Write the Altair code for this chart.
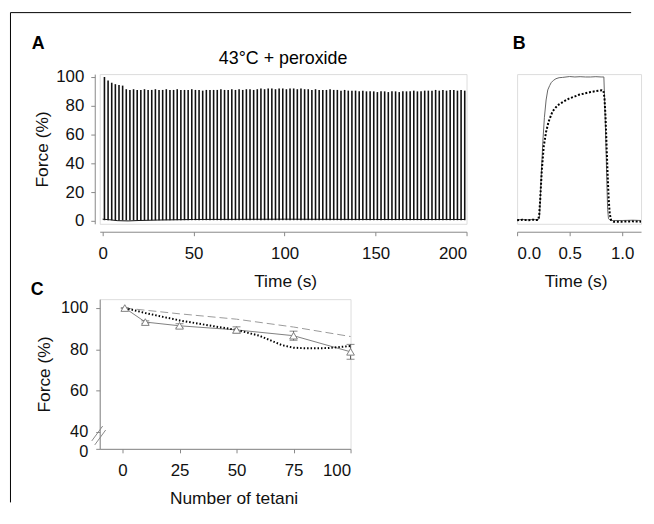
import altair as alt
import pandas as pd

# ---------------- Panel A: 100 tetani, 43°C + peroxide ----------------
a_time = list(range(1, 200, 2))  # one tetanus every 2 s
a_peak = [100, 97.5, 96, 95, 94.5, 94, 91.5, 91, 91.5, 91,
          91, 91.5, 91, 91, 91.5, 91, 91, 91.5, 91, 91,
          91.5, 91, 91, 91, 91.5, 91, 91, 90.5, 91, 91,
          91, 91, 91.5, 91, 91, 91.5, 91, 91.5, 91, 91.5,
          91.5, 91, 91.5, 92, 91.5, 92, 92, 91.5, 92, 92,
          91.5, 92, 92, 91.5, 92, 91.5, 91.5, 91, 91.5, 91,
          91, 91, 91.5, 91, 91, 90.5, 91, 90.5, 90.5, 90.5,
          90, 90.5, 90, 90, 90, 89.5, 90, 90, 89.5, 90,
          90, 89.5, 90, 90, 90, 90.5, 90, 90, 90.5, 90.5,
          90.5, 91, 90.5, 91, 90.5, 91, 91, 90.5, 91, 90.5]
a_base_t = [0, 4, 8, 14, 20, 30, 50, 100, 150, 199]
a_base_f = [1.2, 0.8, 0.2, 0, 0.3, 0.6, 1, 1.2, 1, 1]

# ---------------- Panel B: first (solid) and last (dotted) tetanus ----------------
b_t1 = [0, 0.05, 0.1, 0.15, 0.2, 0.213, 0.229, 0.245, 0.26, 0.276, 0.292, 0.31, 0.324,
        0.345, 0.37, 0.4, 0.434, 0.5, 0.55, 0.6, 0.65, 0.7, 0.75, 0.8, 0.826, 0.835,
        0.845, 0.855, 0.862, 0.87, 0.89, 0.92, 1.0, 1.1, 1.18]
b_f1 = [0.8, 1, 0.8, 1, 0.8, 2, 30, 55, 72, 84, 91, 94, 96,
        97.6, 98.8, 99.5, 99.7, 100.3, 100, 100.2, 100, 100, 100.2, 100, 100, 80,
        55, 25, 8, 1.5, 0.3, 0.3, 0.3, 0.5, 0.3]
b_t2 = [0, 0.05, 0.1, 0.15, 0.2, 0.21, 0.22, 0.235, 0.254, 0.276, 0.3, 0.337, 0.37,
        0.4, 0.45, 0.494, 0.55, 0.588, 0.65, 0.698, 0.75, 0.808, 0.822, 0.832, 0.842,
        0.852, 0.862, 0.872, 0.882, 0.895, 0.92, 1.0, 1.1, 1.18]
b_f2 = [0.5, 0.8, 0.5, 0.8, 0.6, 4, 15, 35, 52, 62, 69, 76, 79,
        81, 83.2, 85, 86.5, 87.6, 88.7, 89.5, 90.2, 90.8, 90.5, 85, 72,
        52, 32, 15, 5, 0.5, -0.5, -0.5, -0.3, -0.5]

# ---------------- Panel C: force vs number of tetani ----------------
c_n = [1, 10, 25, 50, 75, 100]
c_mean = [100, 93.2, 91.4, 89.4, 86.6, 78.8]
c_err = [0, 0.6, 1, 1.5, 2.2, 3.6]
c_dot_n = [1, 10, 25, 40, 50, 60, 65, 70, 75, 80, 90, 100]
c_dot_f = [100, 97.6, 94, 91.2, 89.4, 86.6, 84.3, 82, 80.8, 80.5, 80.6, 81.6]
c_dash_n = [1, 25, 50, 75, 100]
c_dash_f = [100, 97.2, 94.6, 90.8, 86.2]
c_yticks = [31.8, 40, 60, 80, 100]

FONT = "Liberation Sans"
AX = "#888888"
LINEGREY = "#808080"
one = pd.DataFrame({"k": [0]})

def axis_common(**kw):
    base = dict(grid=False, domainColor=AX, tickColor=AX, tickSize=4,
                labelFont=FONT, labelFontSize=17, labelColor="#111", labelOverlap=False,
                titleFont=FONT, titleFontSize=17.5, titleFontWeight="normal",
                titleColor="#111")
    base.update(kw)
    return alt.Axis(**base)

def label(txt, x, y, size=18, bold=True):
    return alt.Chart(one).mark_text(
        text=txt, font=FONT, fontSize=size, fontWeight="bold" if bold else "normal",
        align="center", baseline="middle", color="#000"
    ).encode(x=alt.value(x), y=alt.value(y))

# ---- A ----
yA_scale = alt.Scale(domain=[-2, 102], nice=False)
yA_axis = axis_common(values=[0, 20, 40, 60, 80, 100], offset=5, labelPadding=7,
                      title="Force (%)", titleX=-53, titleBaseline="middle")
yA = alt.Y("f:Q", scale=yA_scale, axis=yA_axis)
xA = alt.X("t:Q", scale=alt.Scale(domain=[-1.6, 200], nice=False, zero=False),
           axis=axis_common(values=[0, 50, 100, 150, 200], offset=8, labelPadding=10,
                            title="Time (s)", titleX=187, titleY=50, titleBaseline="middle"))

dfA = pd.DataFrame({"t": a_time, "f": a_peak, "f0": [0.5] * len(a_time)})
dfA_base = pd.DataFrame({"t": a_base_t, "f": a_base_f})

spikes = alt.Chart(dfA).mark_rule(color="#111", strokeWidth=1.6).encode(
    x=xA, y=yA, y2="f0:Q")
baseA = alt.Chart(dfA_base).mark_line(color="#111", strokeWidth=1).encode(x=xA, y=yA)
frame_l = alt.Chart(one).mark_rule(color="#000", strokeWidth=1).encode(
    x=alt.value(-90), x2=alt.value(-90), y=alt.value(-62), y2=alt.value(432))
frame_t = alt.Chart(one).mark_rule(color="#000", strokeWidth=1).encode(
    x=alt.value(-90), x2=alt.value(536), y=alt.value(-62), y2=alt.value(-62))

panelA = alt.layer(
    spikes, baseA, frame_l, frame_t,
    label("A", -62, -30),
    label("43°C + peroxide", 185, -15, size=18, bold=False),
).properties(width=370, height=151)

# ---- B ----
yB = alt.Y("f:Q", scale=alt.Scale(domain=[-2, 102], nice=False), axis=None)
xB = alt.X("t:Q", scale=alt.Scale(domain=[0, 1.18], nice=False, zero=False),
           axis=axis_common(values=[0, 0.5, 1.0], format=".1f", offset=8, labelPadding=10,
                            title="Time (s)", titleX=59, titleY=50, titleBaseline="middle"))
dfB1 = pd.DataFrame({"t": b_t1, "f": b_f1})
dfB2 = pd.DataFrame({"t": b_t2, "f": b_f2})
lineB1 = alt.Chart(dfB1).mark_line(color="#666", strokeWidth=1).encode(x=xB, y=yB)
lineB2 = alt.Chart(dfB2).mark_line(color="#000", strokeWidth=2, strokeDash=[2, 1.8]).encode(x=xB, y=yB)
panelB = alt.layer(lineB1, lineB2, label("B", 2, -30)).properties(width=125, height=151)

# ---- C ----
yC_scale = alt.Scale(domain=[31.8, 104.3], nice=False, zero=False)
yC_axis = axis_common(values=c_yticks, offset=0, labelPadding=8,
                      labelExpr="datum.value < 35 ? '0' : datum.label",
                      labelOffset={"condition": {"test": "datum.value < 35", "value": 3},
                                   "value": 0},
                      labelFontSize=16.5,
                      title="Force (%)", titleX=-56, titleBaseline="middle")
yC = alt.Y("f:Q", scale=yC_scale, axis=yC_axis)
yC_lo = alt.Y("lo:Q", scale=yC_scale, axis=yC_axis)
yC_hi = alt.Y("hi:Q", scale=yC_scale, axis=yC_axis)
xC = alt.X("n:Q", scale=alt.Scale(domain=[-10, 100], nice=False, zero=False),
           axis=axis_common(values=[0, 25, 50, 75, 100], offset=0, labelPadding=10,
                            title="Number of tetani", titleX=135, titleY=50,
                            titleBaseline="middle"))
dfC = pd.DataFrame({"n": c_n, "f": c_mean,
                    "lo": [m - e for m, e in zip(c_mean, c_err)],
                    "hi": [m + e for m, e in zip(c_mean, c_err)]})
dfDot = pd.DataFrame({"n": c_dot_n, "f": c_dot_f})
dfDash = pd.DataFrame({"n": c_dash_n, "f": c_dash_f})

dash = alt.Chart(dfDash).mark_line(color="#9a9a9a", strokeWidth=1, strokeDash=[8, 4]).encode(x=xC, y=yC)
dot = alt.Chart(dfDot).mark_line(color="#000", strokeWidth=2, strokeDash=[1.5, 2]).encode(x=xC, y=yC)
solid = alt.Chart(dfC).mark_line(color=LINEGREY, strokeWidth=1).encode(x=xC, y=yC)
ebar = alt.Chart(dfC).mark_rule(color="#555", strokeWidth=1).encode(x=xC, y=yC_lo, y2="hi:Q")
cap_lo = alt.Chart(dfC).mark_tick(color="#555", orient="horizontal", size=8, thickness=1).encode(x=xC, y=yC_lo)
cap_hi = alt.Chart(dfC).mark_tick(color="#555", orient="horizontal", size=8, thickness=1).encode(x=xC, y=yC_hi)
tri = alt.Chart(dfC).mark_point(shape="triangle-up", size=60, filled=True, fill="white",
                                stroke=LINEGREY, strokeWidth=1, opacity=1).encode(x=xC, y=yC)
brk1 = alt.Chart(one).mark_rule(color="#888", strokeWidth=1).encode(
    x=alt.value(-8), x2=alt.value(3), y=alt.value(143), y2=alt.value(128))
brk2 = alt.Chart(one).mark_rule(color="#888", strokeWidth=1).encode(
    x=alt.value(-5), x2=alt.value(6), y=alt.value(147), y2=alt.value(132))

panelC = alt.layer(dash, solid, dot, ebar, cap_lo, cap_hi, tri, brk1, brk2,
                   label("C", -63, -9)).properties(width=253, height=151)

chart = alt.concat(panelA, panelB, panelC, columns=2,
                   spacing={"row": 76, "column": 51}, bounds="flush").properties(
    padding={"left": 1.5, "top": 1.5, "right": 0, "bottom": 0}
).configure_view(stroke=None).configure(background="white")

chart.save("out.html", embed_options={"renderer": "svg", "actions": False})
